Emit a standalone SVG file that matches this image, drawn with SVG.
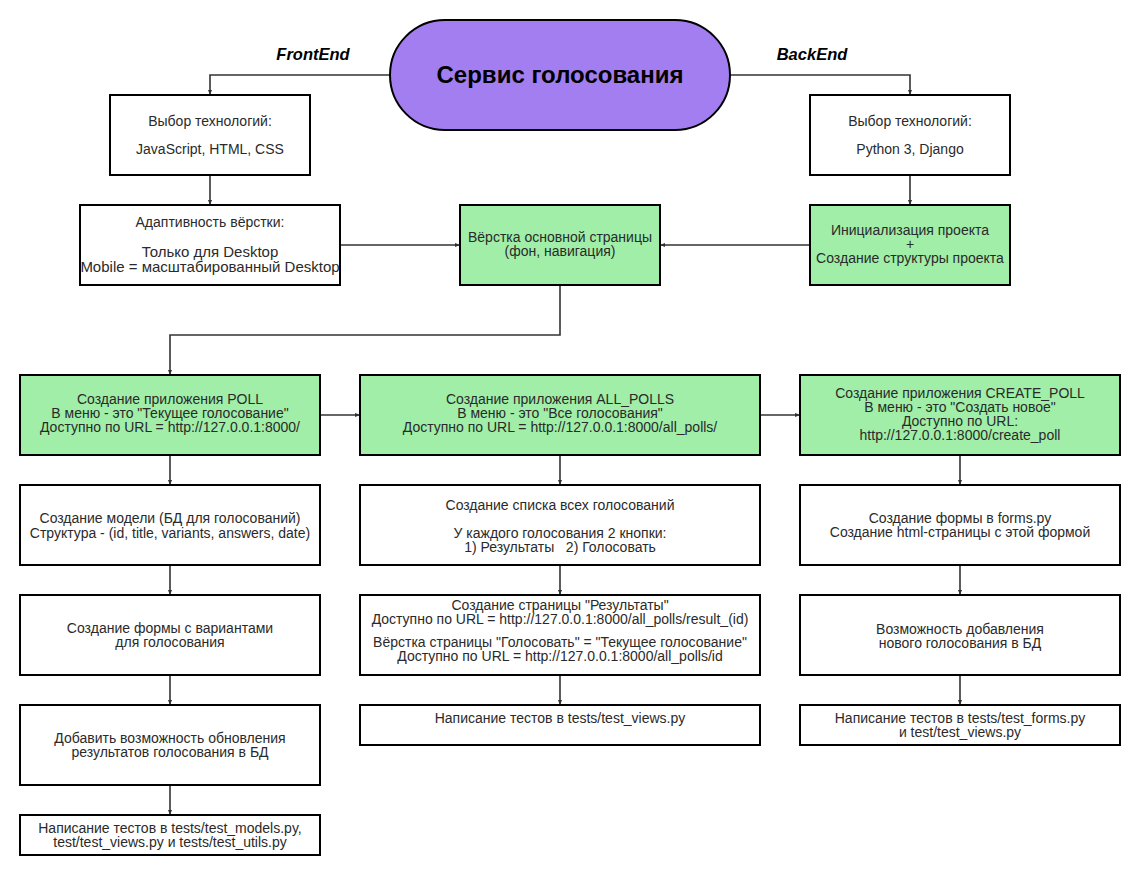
<svg xmlns="http://www.w3.org/2000/svg" width="1140" height="875" viewBox="0 0 1140 875">
<style>
.box{fill:#ffffff;stroke:#000;stroke-width:2}
.green{fill:#a0eea8;stroke:#000;stroke-width:2}
.t{font-family:"Liberation Sans",Arial,sans-serif;font-size:14px;fill:#2a2a2a;text-anchor:middle}
.big{font-size:15px}
.lbl{font-family:"Liberation Sans",Arial,sans-serif;font-size:16.5px;font-weight:bold;font-style:italic;fill:#000;text-anchor:middle}
.title{font-family:"Liberation Sans",Arial,sans-serif;font-size:24px;font-weight:bold;fill:#000;text-anchor:middle}
.c{fill:none;stroke:#333;stroke-width:1.6}
</style>
<defs>
<marker id="ar" viewBox="0 0 10 10" refX="10" refY="5" markerWidth="5" markerHeight="5" orient="auto" markerUnits="userSpaceOnUse">
<path d="M0,1 L10,5 L0,9 z" fill="#333"/>
</marker>
</defs>
<rect width="1140" height="875" fill="#fff"/>
<g id="connectors">
<path class="c" d="M390,75 H210 V95" marker-end="url(#ar)"/>
<path class="c" d="M730,75 H910 V95" marker-end="url(#ar)"/>
<path class="c" d="M210,175 V205" marker-end="url(#ar)"/>
<path class="c" d="M910,175 V205" marker-end="url(#ar)"/>
<path class="c" d="M340,245 H460" marker-end="url(#ar)"/>
<path class="c" d="M810,245 H660" marker-end="url(#ar)"/>
<path class="c" d="M560,285 V335 H170 V375" marker-end="url(#ar)"/>
<path class="c" d="M320,415 H360" marker-end="url(#ar)"/>
<path class="c" d="M760,415 H800" marker-end="url(#ar)"/>
<path class="c" d="M170,455 V485" marker-end="url(#ar)"/>
<path class="c" d="M170,565 V595" marker-end="url(#ar)"/>
<path class="c" d="M170,675 V705" marker-end="url(#ar)"/>
<path class="c" d="M170,785 V815" marker-end="url(#ar)"/>
<path class="c" d="M560,455 V485" marker-end="url(#ar)"/>
<path class="c" d="M560,565 V595" marker-end="url(#ar)"/>
<path class="c" d="M560,675 V705" marker-end="url(#ar)"/>
<path class="c" d="M960,455 V485" marker-end="url(#ar)"/>
<path class="c" d="M960,565 V595" marker-end="url(#ar)"/>
<path class="c" d="M960,675 V705" marker-end="url(#ar)"/>
</g>
<g id="labels">
<text class="lbl" x="313" y="60">FrontEnd</text>
<text class="lbl" x="812" y="60">BackEnd</text>
</g>
<g id="title">
<rect x="390" y="20" width="340" height="110" rx="55" ry="55" fill="#a37ef0" stroke="#000" stroke-width="2"/>
<text class="title" x="560" y="83">Сервис голосования</text>
</g>
<g id="fe-tech">
<rect class="box" x="110" y="95" width="200" height="80"/>
<text class="t" x="210" y="126">Выбор технологий:</text>
<text class="t" x="210" y="154">JavaScript, HTML, CSS</text>
</g>
<g id="be-tech">
<rect class="box" x="810" y="95" width="200" height="80"/>
<text class="t" x="910" y="126">Выбор технологий:</text>
<text class="t" x="910" y="154">Python 3, Django</text>
</g>
<g id="adaptive">
<rect class="box" x="80" y="205" width="260" height="80"/>
<text class="t" x="210" y="227">Адаптивность вёрстки:</text>
<text class="t big" x="210" y="257">Только для Desktop</text>
<text class="t big" x="210" y="272">Mobile = масштабированный Desktop</text>
</g>
<g id="main-layout">
<rect class="green" x="460" y="205" width="200" height="80"/>
<text class="t" x="560" y="242">Вёрстка основной страницы</text>
<text class="t" x="560" y="256">(фон, навигация)</text>
</g>
<g id="init">
<rect class="green" x="810" y="205" width="200" height="80"/>
<text class="t" x="910" y="235">Инициализация проекта</text>
<text class="t" x="910" y="249">+</text>
<text class="t" x="910" y="263">Создание структуры проекта</text>
</g>
<g id="poll">
<rect class="green" x="20" y="375" width="300" height="80"/>
<text class="t" x="170" y="404">Создание приложения POLL</text>
<text class="t" x="170" y="418">В меню - это "Текущее голосование"</text>
<text class="t" x="170" y="432">Доступно по URL = http://127.0.0.1:8000/</text>
</g>
<g id="all-polls">
<rect class="green" x="360" y="375" width="400" height="80"/>
<text class="t" x="560" y="404">Создание приложения ALL_POLLS</text>
<text class="t" x="560" y="418">В меню - это "Все голосования"</text>
<text class="t" x="560" y="432">Доступно по URL = http://127.0.0.1:8000/all_polls/</text>
</g>
<g id="create-poll">
<rect class="green" x="800" y="375" width="320" height="80"/>
<text class="t" x="960" y="398">Создание приложения CREATE_POLL</text>
<text class="t" x="960" y="412">В меню - это "Создать новое"</text>
<text class="t" x="960" y="426">Доступно по URL:</text>
<text class="t" x="960" y="440">http://127.0.0.1:8000/create_poll</text>
</g>
<g id="model">
<rect class="box" x="20" y="485" width="300" height="80"/>
<text class="t" x="170" y="523">Создание модели (БД для голосований)</text>
<text class="t" x="170" y="538">Структура - (id, title, variants, answers, date)</text>
</g>
<g id="form-variants">
<rect class="box" x="20" y="595" width="300" height="80"/>
<text class="t" x="170" y="633">Создание формы с вариантами</text>
<text class="t" x="170" y="647">для голосования</text>
</g>
<g id="update-results">
<rect class="box" x="20" y="705" width="300" height="80"/>
<text class="t" x="170" y="743">Добавить возможность обновления</text>
<text class="t" x="170" y="757">результатов голосования в БД</text>
</g>
<g id="tests-poll">
<rect class="box" x="20" y="815" width="300" height="40"/>
<text class="t" x="170" y="833">Написание тестов в tests/test_models.py,</text>
<text class="t" x="170" y="847">test/test_views.py и tests/test_utils.py</text>
</g>
<g id="list">
<rect class="box" x="360" y="485" width="400" height="80"/>
<text class="t" x="560" y="510">Создание списка всех голосований</text>
<text class="t" x="560" y="538">У каждого голосования 2 кнопки:</text>
<text class="t" x="560" y="552" xml:space="preserve">1) Результаты   2) Голосовать</text>
</g>
<g id="results-page">
<rect class="box" x="360" y="595" width="400" height="80"/>
<text class="t" x="560" y="610">Создание страницы "Результаты"</text>
<text class="t" x="560" y="624">Доступно по URL = http://127.0.0.1:8000/all_polls/result_(id)</text>
<text class="t" x="560" y="647">Вёрстка страницы "Голосовать" = "Текущее голосование"</text>
<text class="t" x="560" y="661">Доступно по URL = http://127.0.0.1:8000/all_polls/id</text>
</g>
<g id="tests-all">
<rect class="box" x="360" y="705" width="400" height="40"/>
<text class="t" x="560" y="723">Написание тестов в tests/test_views.py</text>
</g>
<g id="forms">
<rect class="box" x="800" y="485" width="320" height="80"/>
<text class="t" x="960" y="523">Создание формы в forms.py</text>
<text class="t" x="960" y="537">Создание html-страницы с этой формой</text>
</g>
<g id="add-new">
<rect class="box" x="800" y="595" width="320" height="80"/>
<text class="t" x="960" y="634">Возможность добавления</text>
<text class="t" x="960" y="648">нового голосования в БД</text>
</g>
<g id="tests-create">
<rect class="box" x="800" y="705" width="320" height="40"/>
<text class="t" x="960" y="723">Написание тестов в tests/test_forms.py</text>
<text class="t" x="960" y="737">и test/test_views.py</text>
</g>
</svg>
